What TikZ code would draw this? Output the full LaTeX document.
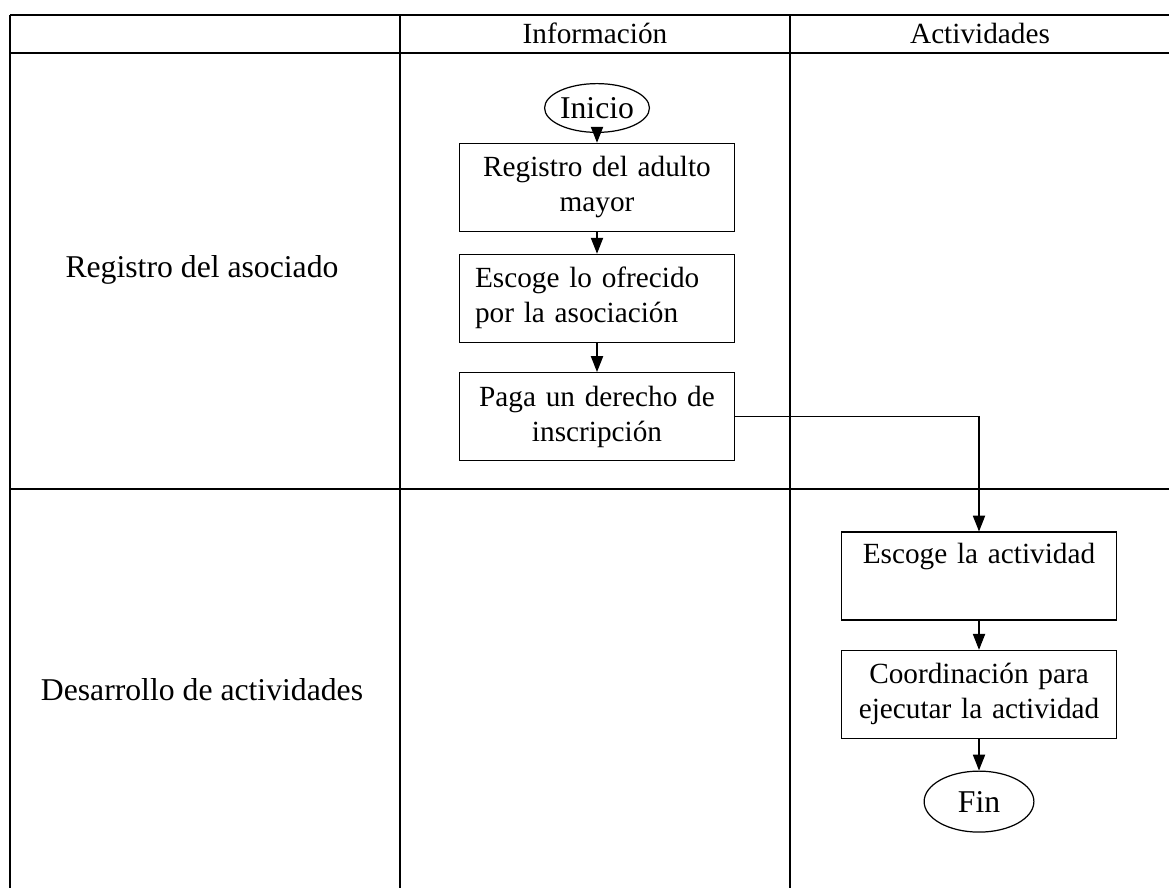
\documentclass[tikz,border=0pt]{standalone}
\usepackage{fontspec}
\setmainfont{Liberation Serif}
\usetikzlibrary{positioning,shapes.geometric,arrows.meta}

\begin{document}
\begin{tikzpicture}[x=0.41pt, y=-0.41pt, node distance=9pt, auto, font=\fontsize{12}{14.3}\selectfont]
    % Define styles
    \tikzstyle{tabla} = [line width=0.8pt]
    \tikzstyle{carril} = [font=\fontsize{13}{15}\selectfont]
    \tikzstyle{proceso} = [rectangle, draw, line width=0.5pt, text width=100pt, inner xsep=6.5pt, inner ysep=3pt, align=center, minimum height=36pt]
    \tikzstyle{terminal} = [ellipse, draw, line width=0.5pt, inner sep=0pt, font=\fontsize{13}{15}\selectfont, minimum width=43pt, minimum height=20pt]
    \tikzstyle{flecha} = [-{Triangle[width=5pt,length=6.5pt]}, line width=0.5pt]

    \useasboundingbox (0,0) rectangle (1169,888);

    % Table
    \draw [tabla] (10,15) -- (1169,15);
    \draw [tabla] (10,53) -- (1169,53);
    \draw [tabla] (10,489) -- (1169,489);
    \draw [tabla] (10,15) -- (10,888);
    \draw [tabla] (400,15) -- (400,888);
    \draw [tabla] (790,15) -- (790,888);

    % Headers
    \node (hinfo) at (595,33) {Información};
    \node (hact) at (980,33) {Actividades};
    \node [carril] (lreg) at (202,270) {Registro del asociado};
    \node [carril] (ldes) at (202,690) {Desarrollo de actividades};

    % Steps
    \node [terminal] (inicio) at (597,108) {Inicio};
    \node [proceso, below=4pt of inicio] (regadulto) {Registro del adulto\\mayor};
    \node [proceso, align=left, below=9pt of regadulto] (escoge) {Escoge lo ofrecido\\por la asociación};
    \node [proceso, below=12pt of escoge] (pago) {Paga un derecho de\\inscripción};
    \node [proceso] (actividad) at (979,576) {Escoge la actividad\\ \strut};
    \node [proceso, below=12pt of actividad] (coord) {Coordinación para\\ejecutar la actividad};
    \node [terminal, minimum width=45pt, minimum height=25pt, below=13pt of coord] (fin) {Fin};

    % Arrows
    \draw [flecha] (inicio) -- (regadulto);
    \draw [flecha] (regadulto) -- (escoge);
    \draw [flecha] (escoge) -- (pago);
    \draw [flecha] (pago.east) -| (actividad.north);
    \draw [flecha] (actividad) -- (coord);
    \draw [flecha] (coord) -- (fin);
\end{tikzpicture}
\end{document}
